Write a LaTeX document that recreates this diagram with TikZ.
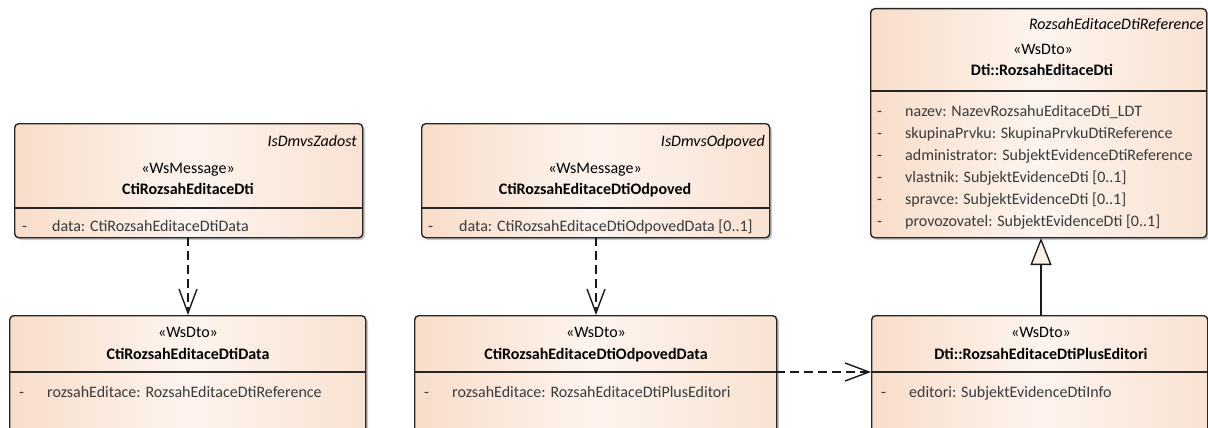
\documentclass[tikz,border=0pt]{standalone}
\usepackage{fontspec}
\setmainfont{Carlito}
\usetikzlibrary{arrows.meta,shadows,calc}
\definecolor{peachL}{HTML}{F8DDC9}
\definecolor{peachM}{HTML}{FDF4EE}
\definecolor{peachR}{HTML}{F9E2D2}
\definecolor{triFill}{HTML}{FBF0E3}
\definecolor{attrGray}{HTML}{3A3A3A}
\begin{document}
\begin{tikzpicture}[x=1pt,y=-1pt,
  umlshadow/.style={fill=black!22, draw=none, rounded corners=4pt},
  umlbox/.style={draw=black!85, line width=1.4pt, rounded corners=4pt,
    left color=peachL, right color=peachR, middle color=peachM,
    anchor=north west, inner sep=0pt},
  sepline/.style={draw=black!85, line width=1.3pt},
  txt/.style={font=\fontsize{16}{19}\selectfont, inner sep=0pt, text height=11.5pt, text depth=3.5pt},
  ital/.style={txt, font=\fontsize{16}{19}\selectfont\itshape, anchor=east},
  ster/.style={txt},
  ttl/.style={txt, font=\fontsize{16}{19}\selectfont\bfseries},
  attr/.style={txt, text=attrGray, anchor=west},
  dep/.style={draw=black!90, line width=1.4pt, dash pattern=on 9pt off 5pt,
    -{Straight Barb[length=24pt,width=18pt,line width=1.4pt,sep=0pt]}},
  gen/.style={draw=black!90, line width=1.4pt,
    -{Triangle[length=27pt,width=21pt,fill=triFill,line width=1.3pt]}}
]
\useasboundingbox (0,0) rectangle (1208,428);
\clip (0,0) rectangle (1208,428);

% ---------- shadows ----------
\fill[umlshadow] (17,126) rectangle (365,240);
\fill[umlshadow] (424,126) rectangle (772,240);
\fill[umlshadow] (873,11) rectangle (1209,240);
\fill[umlshadow] (12,318) rectangle (368,458);
\fill[umlshadow] (417,318) rectangle (779,458);
\fill[umlshadow] (874,318) rectangle (1210,458);

% ---------- Box 1 ----------
\node[umlbox, minimum width=348pt, minimum height=114pt] (b1) at (14,123) {};
\draw[sepline] (14,208) -- (362,208);
\node[ital] (b1i) at (357,142) {IsDmvsZadost};
\node[ster] (b1s) at (188,169) {«WsMessage»};
\node[ttl] (b1t) at (188,190) {CtiRozsahEditaceDti};
\node[attr] (b1d) at (22,227) {-};
\node[attr] (b1a) at (52,227) {data: CtiRozsahEditaceDtiData};

% ---------- Box 2 ----------
\node[umlbox, minimum width=348pt, minimum height=114pt] (b2) at (421,123) {};
\draw[sepline] (421,208) -- (769,208);
\node[ital] (b2i) at (765,142) {IsDmvsOdpoved};
\node[ster] (b2s) at (595,169) {«WsMessage»};
\node[ttl] (b2t) at (595,190) {CtiRozsahEditaceDtiOdpoved};
\node[attr] (b2d) at (428,227) {-};
\node[attr] (b2a) at (459,227) {data: CtiRozsahEditaceDtiOdpovedData [0..1]};

% ---------- Box 3 ----------
\node[umlbox, minimum width=336pt, minimum height=229pt] (b3) at (870,8) {};
\draw[sepline] (870,91) -- (1206,91);
\node[ital] (b3i) at (1204,26) {RozsahEditaceDtiReference};
\node[ster] (b3s) at (1043,51) {«WsDto»};
\node[ttl] (b3t) at (1042,72) {Dti::RozsahEditaceDti};
\node[attr] (b3d1) at (877,112) {-};
\node[attr] (b3a1) at (905,112) {nazev: NazevRozsahuEditaceDti\_LDT};
\node[attr] (b3d2) at (877,134) {-};
\node[attr] (b3a2) at (905,134) {skupinaPrvku: SkupinaPrvkuDtiReference};
\node[attr] (b3d3) at (877,156) {-};
\node[attr] (b3a3) at (905,156) {administrator: SubjektEvidenceDtiReference};
\node[attr] (b3d4) at (877,178) {-};
\node[attr] (b3a4) at (905,178) {vlastnik: SubjektEvidenceDti [0..1]};
\node[attr] (b3d5) at (877,200) {-};
\node[attr] (b3a5) at (905,200) {spravce: SubjektEvidenceDti [0..1]};
\node[attr] (b3d6) at (877,222) {-};
\node[attr] (b3a6) at (905,222) {provozovatel: SubjektEvidenceDti [0..1]};

% ---------- Box 4 ----------
\node[umlbox, minimum width=356pt, minimum height=140pt] (b4) at (9,315) {};
\draw[sepline] (9,372) -- (365,372);
\node[ster] (b4s) at (188,333) {«WsDto»};
\node[ttl] (b4t) at (188,355) {CtiRozsahEditaceDtiData};
\node[attr] (b4d) at (19,393) {-};
\node[attr] (b4a) at (47,393) {rozsahEditace: RozsahEditaceDtiReference};

% ---------- Box 5 ----------
\node[umlbox, minimum width=362pt, minimum height=140pt] (b5) at (414,315) {};
\draw[sepline] (414,372) -- (776,372);
\node[ster] (b5s) at (596,333) {«WsDto»};
\node[ttl] (b5t) at (596,355) {CtiRozsahEditaceDtiOdpovedData};
\node[attr] (b5d) at (424,393) {-};
\node[attr] (b5a) at (452,393) {rozsahEditace: RozsahEditaceDtiPlusEditori};

% ---------- Box 6 ----------
\node[umlbox, minimum width=336pt, minimum height=140pt] (b6) at (871,315) {};
\draw[sepline] (871,372) -- (1207,372);
\node[ster] (b6s) at (1041,333) {«WsDto»};
\node[ttl] (b6t) at (1041,355) {Dti::RozsahEditaceDtiPlusEditori};
\node[attr] (b6d) at (881,393) {-};
\node[attr] (b6a) at (909,393) {editori: SubjektEvidenceDtiInfo};

% ---------- Connectors ----------
\coordinate (c1s) at (188,237);
\coordinate (c1e) at (188,315);
\draw[dep] (c1s) -- (c1e);
\coordinate (c2s) at (596,237);
\coordinate (c2e) at (596,315);
\draw[dep] (c2s) -- (c2e);
\coordinate (c3s) at (776,372);
\coordinate (c3e) at (871,372);
\draw[dep] (c3s) -- (c3e);
\coordinate (g1s) at (1041,315);
\coordinate (g1e) at (1041,238);
\draw[gen] (g1s) -- (g1e);
\end{tikzpicture}
\end{document}
